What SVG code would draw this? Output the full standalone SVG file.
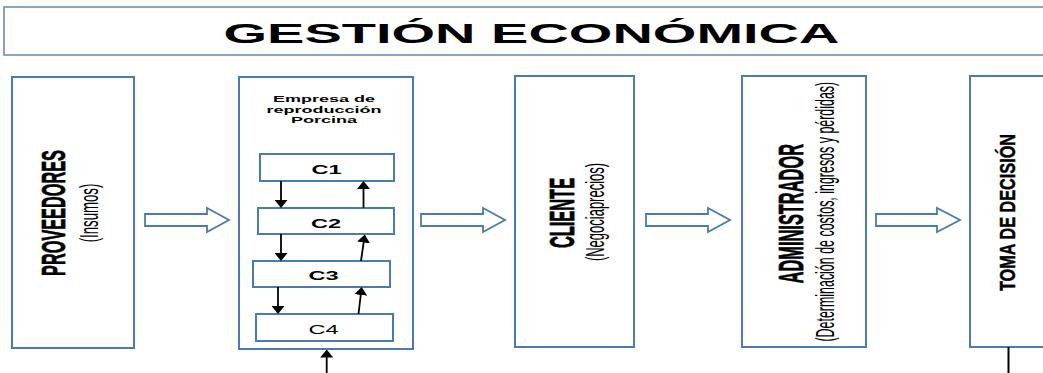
<svg xmlns="http://www.w3.org/2000/svg" width="1043" height="373" viewBox="0 0 1043 373">
<style>
.box{fill:#fff;stroke:#4a7ab0;stroke-width:2}
.cbox{fill:#fff;stroke:#4a7ab0;stroke-width:2}
.blk{fill:#fff;stroke:#4a7ab0;stroke-width:1.8;stroke-linejoin:miter}
.t{font-family:"Liberation Sans",Arial,sans-serif;fill:#000;text-anchor:middle}
.b{font-weight:bold}
.v{stroke:#000;stroke-width:0.35}
.ln{stroke:#000;stroke-width:1.8;fill:none;marker-end:url(#ah)}
</style>
<defs>
<marker id="ah" viewBox="0 0 8 13" refX="4" refY="6.5" markerWidth="8" markerHeight="13" markerUnits="userSpaceOnUse" orient="auto">
<path d="M0,0 L8,6.5 L0,13 z" fill="#000"/>
</marker>
</defs>

<g id="title">
<rect x="4" y="7" width="1045" height="48" fill="#fff" stroke="#5f86b3" stroke-width="1.5"/>
<text class="t b" font-size="28" transform="translate(531.5,43) scale(2,1)">GESTIÓN ECONÓMICA</text>
</g>

<g id="proveedores">
<rect class="box" x="12" y="77" width="122" height="271"/>
<text class="t b v" font-size="16.3" transform="translate(64.5,213) scale(2.05,1) rotate(-90)">PROVEEDORES</text>
<text class="t" font-size="13.2" transform="translate(98,213) scale(2,1) rotate(-90)">(Insumos)</text>
</g>

<g id="empresa">
<rect class="box" x="239" y="77" width="174" height="272"/>
<text class="t b" font-size="9" transform="translate(324,102) scale(2,1)">Empresa de</text>
<text class="t b" font-size="9" transform="translate(324,112.5) scale(2,1)">reproducción</text>
<text class="t b" font-size="9" transform="translate(324,123) scale(2,1)">Porcina</text>
</g>

<g id="c1">
<rect class="cbox" x="260" y="154" width="134" height="27"/>
<text class="t b" font-size="13.5" transform="translate(326.5,174) scale(1.75,1)">C1</text>
</g>
<g id="c2">
<rect class="cbox" x="258" y="208" width="136" height="26"/>
<text class="t b" font-size="13.5" transform="translate(326,227.5) scale(1.75,1)">C2</text>
</g>
<g id="c3">
<rect class="cbox" x="253" y="261" width="137" height="26"/>
<text class="t b" font-size="13.5" transform="translate(323.5,280) scale(1.75,1)">C3</text>
</g>
<g id="c4">
<rect class="cbox" x="256" y="314" width="137" height="27"/>
<text class="t" font-size="13.5" transform="translate(323.5,333.5) scale(1.75,1)">C4</text>
</g>

<g id="cliente">
<rect class="box" x="515" y="76" width="119" height="271"/>
<text class="t b v" font-size="16.4" transform="translate(573.5,213) scale(2.15,1) rotate(-90)">CLIENTE</text>
<text class="t" font-size="13" transform="translate(604,212) scale(1.93,1) rotate(-90)">(Negociaprecios)</text>
</g>

<g id="administrador">
<rect class="box" x="742" y="76" width="124" height="271"/>
<text class="t b v" font-size="16.4" transform="translate(802.5,213.7) scale(2.1,1) rotate(-90)">ADMINISTRADOR</text>
<text class="t" font-size="12.44" transform="translate(834,211.7) scale(2,1) rotate(-90)">(Determinación de costos, ingresos y pérdidas)</text>
</g>

<g id="toma">
<rect class="box" x="970" y="76" width="100" height="271"/>
<text class="t b v" font-size="16.25" transform="translate(1014.5,212.5) scale(1.35,1) rotate(-90)">TOMA DE DECISIÓN</text>
</g>

<g id="connectors">
<polygon class="blk" points="145,214 207,214 207,208 229,220 207,232 207,226 145,226"/>
<polygon class="blk" points="421,214 483,214 483,208 505,220 483,232 483,226 421,226"/>
<polygon class="blk" points="646,214 708,214 708,208 730,220 708,232 708,226 646,226"/>
<polygon class="blk" points="876,214 937,214 937,208 960,220 937,232 937,226 876,226"/>
<line class="ln" x1="281" y1="181" x2="281" y2="204"/>
<line class="ln" x1="281" y1="234" x2="281" y2="257"/>
<line class="ln" x1="278" y1="287" x2="278" y2="310"/>
<line class="ln" x1="363.5" y1="208" x2="363.5" y2="185"/>
<line class="ln" x1="361" y1="261" x2="364.2" y2="238.5"/>
<line class="ln" x1="358.5" y1="314" x2="361.2" y2="291"/>
<line class="ln" x1="326.7" y1="373" x2="326.7" y2="353.5"/>
<line x1="1008.5" y1="347" x2="1008.5" y2="373" stroke="#000" stroke-width="2"/>
</g>
</svg>
